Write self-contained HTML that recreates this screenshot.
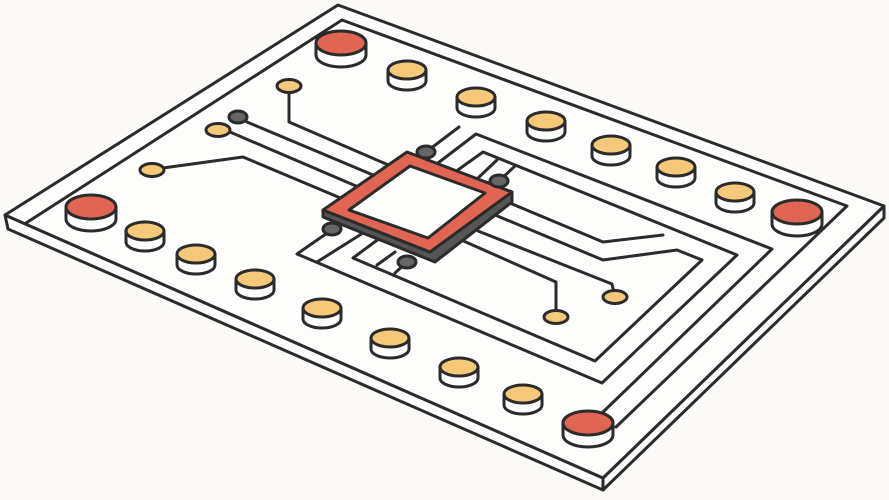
<!DOCTYPE html>
<html><head><meta charset="utf-8"><style>
html,body{margin:0;padding:0;background:#fbfaf7;}
svg{display:block;}
</style></head><body>
<svg width="889" height="500" viewBox="0 0 889 500" xmlns="http://www.w3.org/2000/svg">
<g stroke="#2b2b2b" stroke-width="3" stroke-linejoin="round" stroke-linecap="round">
<polygon points="5,215 603,478 603,490 8,229" fill="#fdfdfb"/>
<polygon points="603,478 884,206 884,218 603,490" fill="#fdfdfb"/>
<polygon points="338,5 884,206 603,478 5,215" fill="#fdfdfb"/>
<polyline points="26,223 342,20 847,206 616,427" fill="none"/>
<g fill="none">
<polyline points="438,163 476,134 772,249 603,412"/>
<polyline points="455,172 483,152 737,255 602,383 297,254 333,229"/>
<line x1="317" y1="262" x2="363" y2="233"/>
<polyline points="380,238 353,258 595,361 702,260 677,250 603,260 495,215"/>
<line x1="377" y1="265" x2="395" y2="252"/>
<line x1="395" y1="273" x2="407" y2="262"/>
<line x1="478" y1="178" x2="497" y2="160"/>
<line x1="499" y1="181" x2="515" y2="166"/>
<line x1="426" y1="152" x2="459" y2="127"/>
<polyline points="505,201 603,242 663,235"/>
<polyline points="478,231 612,284 615,297"/>
<polyline points="450,235 556,282 556,316"/>
<polyline points="289,86 289,122 400,170"/>
<polyline points="238,117 247,122 385,180"/>
<polyline points="218,130 230,132 370,192"/>
<polyline points="152,170 163,168 243,157 350,202"/>
</g>
<polygon points="323,210 430,252 512,192 512,202 435,262 323,217" fill="#555"/>
<polygon points="323,210 407,152 512,192 430,252" fill="#e06552"/>
<polygon points="349,210 410,166 485,193 428,238" fill="#fdfdfb"/>
<g fill="#f6c879">
<ellipse cx="289" cy="86" rx="12" ry="6.5"/>
<ellipse cx="218" cy="130" rx="12" ry="6.5"/>
<ellipse cx="152" cy="170" rx="12" ry="6.5"/>
<ellipse cx="556" cy="317" rx="12" ry="6.5"/>
<ellipse cx="615" cy="297" rx="12" ry="6.5"/>
</g>
<g fill="#666">
<ellipse cx="238" cy="117" rx="9" ry="6"/>
<ellipse cx="426" cy="152" rx="9" ry="6"/>
<ellipse cx="499" cy="181" rx="9" ry="6"/>
<ellipse cx="332" cy="229" rx="9" ry="6"/>
<ellipse cx="407" cy="262" rx="9" ry="6"/>
</g>
</g>
<g stroke="#2b2b2b" stroke-width="3" stroke-linejoin="round">
<path d="M316,43 v12 a25,12 0 0 0 50,0 v-12 z" fill="#fdfdfb"/><ellipse cx="341" cy="43" rx="25" ry="12" fill="#e06552"/>
<path d="M66,207 v12 a25,12 0 0 0 50,0 v-12 z" fill="#fdfdfb"/><ellipse cx="91" cy="207" rx="25" ry="12" fill="#e06552"/>
<path d="M772,212 v12 a25,12 0 0 0 50,0 v-12 z" fill="#fdfdfb"/><ellipse cx="797" cy="212" rx="25" ry="12" fill="#e06552"/>
<path d="M563,423 v12 a25,12 0 0 0 50,0 v-12 z" fill="#fdfdfb"/><ellipse cx="588" cy="423" rx="25" ry="12" fill="#e06552"/>
<path d="M388,70 v11 a19,9 0 0 0 38,0 v-11 z" fill="#fdfdfb"/><ellipse cx="407" cy="70" rx="19" ry="9" fill="#f6c879"/>
<path d="M457,97 v11 a19,9 0 0 0 38,0 v-11 z" fill="#fdfdfb"/><ellipse cx="476" cy="97" rx="19" ry="9" fill="#f6c879"/>
<path d="M527,121 v11 a19,9 0 0 0 38,0 v-11 z" fill="#fdfdfb"/><ellipse cx="546" cy="121" rx="19" ry="9" fill="#f6c879"/>
<path d="M592,145 v11 a19,9 0 0 0 38,0 v-11 z" fill="#fdfdfb"/><ellipse cx="611" cy="145" rx="19" ry="9" fill="#f6c879"/>
<path d="M657,167 v11 a19,9 0 0 0 38,0 v-11 z" fill="#fdfdfb"/><ellipse cx="676" cy="167" rx="19" ry="9" fill="#f6c879"/>
<path d="M716,192 v11 a19,9 0 0 0 38,0 v-11 z" fill="#fdfdfb"/><ellipse cx="735" cy="192" rx="19" ry="9" fill="#f6c879"/>
<path d="M126,231 v11 a19,9 0 0 0 38,0 v-11 z" fill="#fdfdfb"/><ellipse cx="145" cy="231" rx="19" ry="9" fill="#f6c879"/>
<path d="M177,254 v11 a19,9 0 0 0 38,0 v-11 z" fill="#fdfdfb"/><ellipse cx="196" cy="254" rx="19" ry="9" fill="#f6c879"/>
<path d="M236,279 v11 a19,9 0 0 0 38,0 v-11 z" fill="#fdfdfb"/><ellipse cx="255" cy="279" rx="19" ry="9" fill="#f6c879"/>
<path d="M303,308 v11 a19,9 0 0 0 38,0 v-11 z" fill="#fdfdfb"/><ellipse cx="322" cy="308" rx="19" ry="9" fill="#f6c879"/>
<path d="M371,338 v11 a19,9 0 0 0 38,0 v-11 z" fill="#fdfdfb"/><ellipse cx="390" cy="338" rx="19" ry="9" fill="#f6c879"/>
<path d="M440,367 v11 a19,9 0 0 0 38,0 v-11 z" fill="#fdfdfb"/><ellipse cx="459" cy="367" rx="19" ry="9" fill="#f6c879"/>
<path d="M504,394 v11 a19,9 0 0 0 38,0 v-11 z" fill="#fdfdfb"/><ellipse cx="523" cy="394" rx="19" ry="9" fill="#f6c879"/>
</g>
</svg>
</body></html>
